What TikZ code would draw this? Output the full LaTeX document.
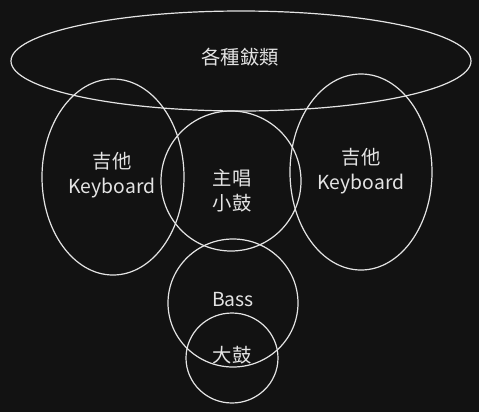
\documentclass[tikz,border=0pt]{standalone}
\usepackage{fontspec}
\setmainfont{Noto Sans CJK TC}
\definecolor{bgdark}{HTML}{121212}
\definecolor{inkwhite}{HTML}{E4E4E4}
\tikzset{every picture/.style={line width=0.9pt}}
\tikzset{
  sketch/.style={draw=inkwhite},
  label/.style={text=inkwhite, inner sep=0.75pt, font=\fontsize{14.5}{18.5}\selectfont, align=center}
}

\begin{document}
\begin{tikzpicture}[x=0.75pt,y=0.75pt,yscale=-1,xscale=1]
%set diagram left start at 0, and has height of 412
\fill[bgdark] (0,0) rectangle (479,412);
\useasboundingbox (0,0) rectangle (479,412);

%Shape: Ellipse [id:cymbals]
\draw [sketch] (241,61) ellipse (230 and 50);
%Shape: Ellipse [id:leftband]
\draw [sketch] (113,177) ellipse (71 and 98);
%Shape: Ellipse [id:rightband]
\draw [sketch] (361,172) ellipse (71 and 98);
%Shape: Circle [id:vocals]
\draw [sketch] (231,181) ellipse (70 and 70);
%Shape: Circle [id:bass]
\draw [sketch] (233,303) ellipse (65 and 64);
%Shape: Circle [id:kick]
\draw [sketch] (232,358) ellipse (46 and 45);

% Text Node
\node [label] (cymbalstext) at (240,57) {各種鈸類};
% Text Node
\node [label] (lefttext) at (112,175) {吉他\\Keyboard};
% Text Node
\node [label] (righttext) at (361,171) {吉他\\Keyboard};
% Text Node
\node [label] (vocalstext) at (232,191) {主唱\\小鼓};
% Text Node
\node [label] (basstext) at (233,300) {Bass};
% Text Node
\node [label] (kicktext) at (232,355) {大鼓};

\end{tikzpicture}
\end{document}
